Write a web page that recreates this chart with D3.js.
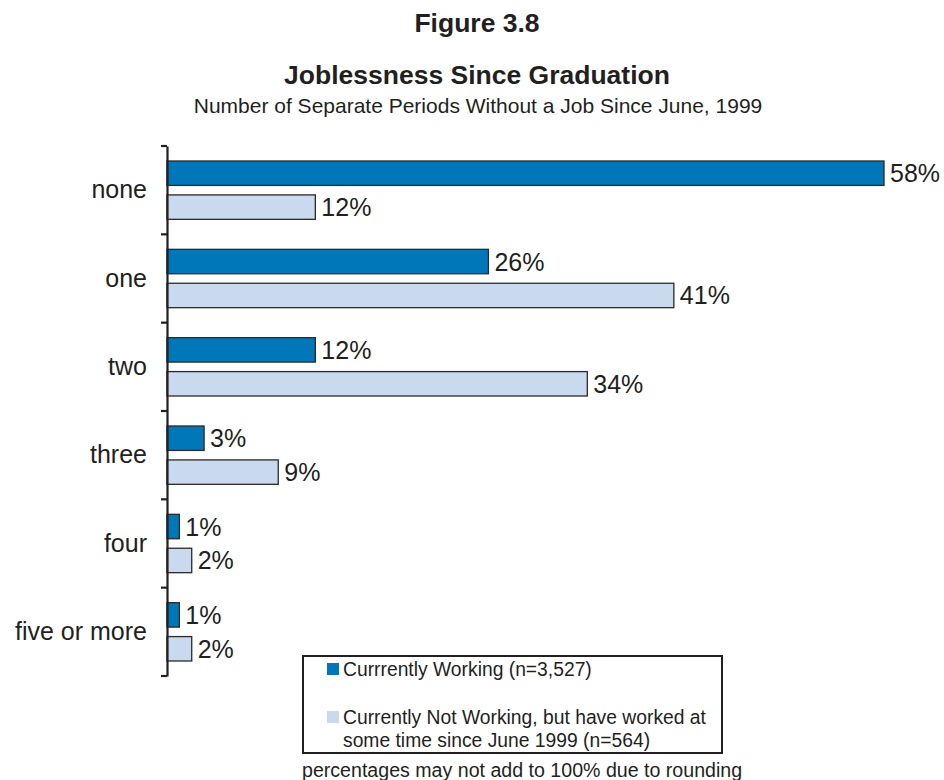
<!DOCTYPE html>
<html>
<head>
<meta charset="utf-8">
<script src="https://cdn.jsdelivr.net/npm/d3@7"></script>
<style>
  html, body { margin: 0; padding: 0; background: #fff; }
  svg text { font-family: "Liberation Sans", Arial, sans-serif; fill: #231f20; }
</style>
</head>
<body>
<svg id="chart" width="944" height="780"></svg>
<script>
// Categories: number of separate periods without a job
const categories = ["none", "one", "two", "three", "four", "five or more"];
// Percent of respondents per category, by working status
const working = [58, 26, 12, 3, 1, 1];
const notWorking = [12, 41, 34, 9, 2, 2];
const seriesNames = ["Currrently Working (n=3,527)",
  ["Currently Not Working, but have worked at", "some time since June 1999 (n=564)"]];
const colors = ["#0077b9", "#c9d9ee"];

const svg = d3.select("#chart");

const x = d3.scaleLinear().domain([0, 58]).range([167, 884]);
const y = d3.scaleBand().domain(categories).range([146, 676]).paddingInner(0).paddingOuter(0);
const sub = d3.scaleBand().domain([0, 1]).range([15, y.bandwidth() - 15]).paddingInner(0.28);

// Titles
svg.append("text").attr("x", 477).attr("y", 32).attr("text-anchor", "middle")
  .attr("font-size", 26.5).attr("font-weight", "bold").text("Figure 3.8");
svg.append("text").attr("x", 477).attr("y", 84).attr("text-anchor", "middle")
  .attr("font-size", 26.5).attr("font-weight", "bold").text("Joblessness Since Graduation");
svg.append("text").attr("x", 478).attr("y", 113).attr("text-anchor", "middle")
  .attr("font-size", 21).text("Number of Separate Periods Without a Job Since June, 1999");

// Bars
const rows = categories.map((c, i) => ({ cat: c, vals: [working[i], notWorking[i]] }));
const groups = svg.append("g").selectAll("g").data(rows).join("g")
  .attr("transform", d => `translate(0,${y(d.cat)})`);

groups.selectAll("rect").data(d => d.vals.map((v, k) => ({ v, k }))).join("rect")
  .attr("x", x(0))
  .attr("y", d => sub(d.k))
  .attr("width", d => x(d.v) - x(0))
  .attr("height", sub.bandwidth())
  .attr("fill", d => colors[d.k])
  .attr("stroke", "#2a2a2a")
  .attr("stroke-width", 1.3);

groups.selectAll("text.val").data(d => d.vals.map((v, k) => ({ v, k }))).join("text")
  .attr("class", "val")
  .attr("x", d => x(d.v) + 6)
  .attr("y", d => sub(d.k) + sub.bandwidth() / 2)
  .attr("dy", "0.36em")
  .attr("font-size", 25)
  .text(d => d.v + "%");

// Category axis
const axis = d3.axisLeft(y).tickSize(0).tickPadding(20);
const gAxis = svg.append("g").attr("transform", `translate(${x(0)},0)`).call(axis);
gAxis.select(".domain").attr("stroke", "#231f20").attr("stroke-width", 2.2);
gAxis.selectAll(".tick text").attr("font-size", 25).attr("fill", "#231f20")
  .attr("font-family", "Liberation Sans, Arial, sans-serif");

// Separator ticks at band boundaries
const bounds = categories.map(c => y(c)).concat([y.range()[1]]);
svg.append("g").selectAll("line").data(bounds).join("line")
  .attr("x1", x(0) - 6).attr("x2", x(0))
  .attr("y1", d => d).attr("y2", d => d)
  .attr("stroke", "#231f20").attr("stroke-width", 2.2);

// Legend
const lg = svg.append("g");
lg.append("rect").attr("x", 303).attr("y", 656).attr("width", 419).attr("height", 97)
  .attr("fill", "#fff").attr("stroke", "#231f20").attr("stroke-width", 2);
lg.append("rect").attr("x", 327).attr("y", 663).attr("width", 12).attr("height", 12).attr("fill", colors[0]);
lg.append("text").attr("x", 343).attr("y", 676).attr("font-size", 19.3).text(seriesNames[0]);
lg.append("rect").attr("x", 327).attr("y", 711).attr("width", 12).attr("height", 12).attr("fill", colors[1]);
lg.append("text").attr("x", 343).attr("y", 724).attr("font-size", 19.3).text(seriesNames[1][0]);
lg.append("text").attr("x", 343).attr("y", 747).attr("font-size", 19.3).text(seriesNames[1][1]);

// Footnote
svg.append("text").attr("x", 302).attr("y", 777).attr("font-size", 19.6)
  .text("percentages may not add to 100% due to rounding");
</script>
</body>
</html>
